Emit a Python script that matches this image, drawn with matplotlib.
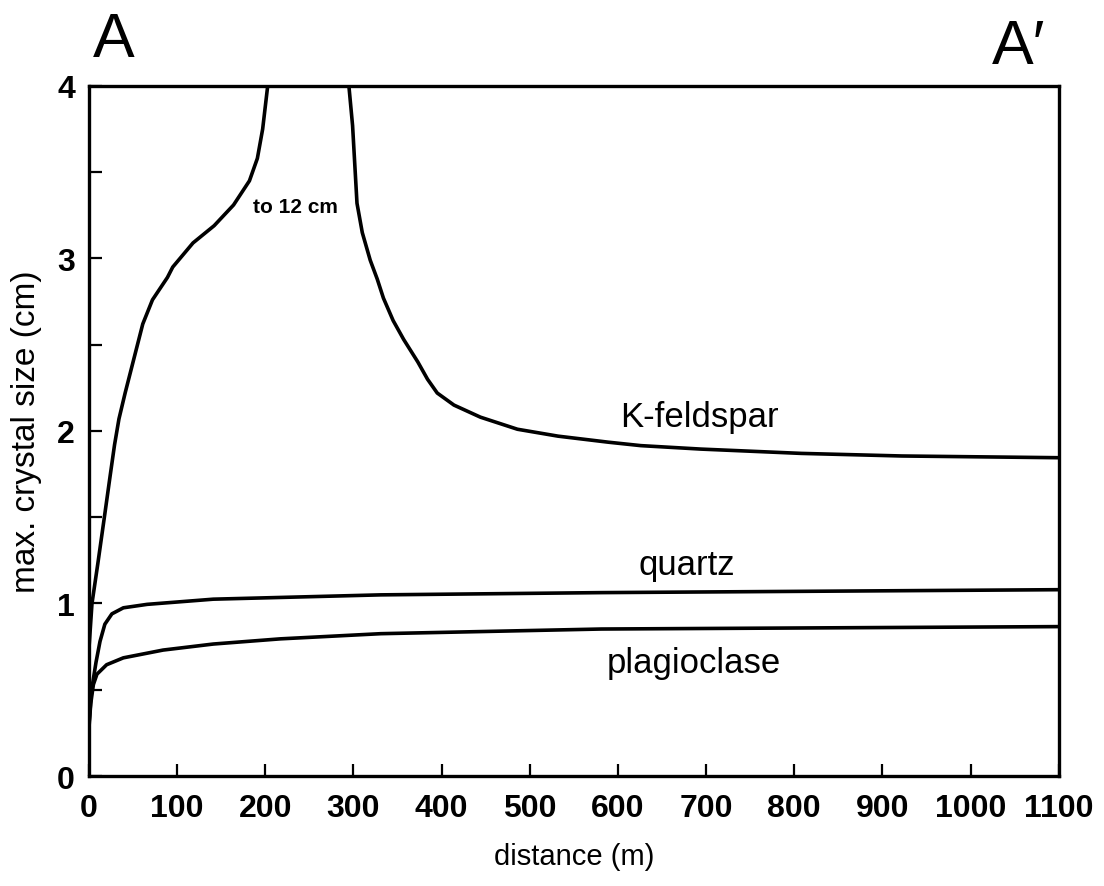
import matplotlib
matplotlib.use("Agg")
import matplotlib.pyplot as plt
from matplotlib.ticker import MultipleLocator

plt.rcParams['font.family'] = ['Liberation Sans', 'DejaVu Sans']

# K-feldspar, left branch (rises off the top of the plot)
kf_left_x = [0, 3.4, 10, 18, 24, 29, 34, 41, 50, 61, 72, 89, 95, 118, 142, 164, 182, 191, 197, 205]
kf_left_y = [0.74, 1.0, 1.23, 1.52, 1.74, 1.92, 2.07, 2.22, 2.40, 2.62, 2.76, 2.89, 2.95, 3.09, 3.19, 3.31, 3.45, 3.58, 3.75, 4.1]
# K-feldspar, right branch
kf_right_x = [293, 299, 304, 310, 319, 327, 334, 345, 357, 373, 384, 395, 414, 444, 486, 532, 589, 626, 694, 808, 922, 1100]
kf_right_y = [4.1, 3.77, 3.32, 3.15, 2.99, 2.88, 2.77, 2.64, 2.53, 2.40, 2.30, 2.22, 2.15, 2.08, 2.01, 1.97, 1.935, 1.915, 1.895, 1.87, 1.855, 1.845]
# quartz
qz_x = [0, 3, 8, 12.5, 18, 26, 39, 66, 141, 331, 581, 1100]
qz_y = [0.30, 0.50, 0.66, 0.78, 0.88, 0.94, 0.975, 0.995, 1.025, 1.05, 1.063, 1.08]
# plagioclase
pl_x = [0, 2, 5, 9, 20, 39, 84, 141, 217, 331, 581, 1100]
pl_y = [0.28, 0.42, 0.53, 0.59, 0.645, 0.685, 0.73, 0.765, 0.795, 0.825, 0.852, 0.866]

x_ticks = list(range(0, 1101, 100))
y_ticks = [0, 1, 2, 3, 4]

fig = plt.figure(figsize=(11.04, 8.87), dpi=100)
ax = fig.add_axes([0.0806, 0.124, 0.8784, 0.778])

lw = 2.6
for xs, ys in [(kf_left_x, kf_left_y), (kf_right_x, kf_right_y), (qz_x, qz_y), (pl_x, pl_y)]:
    ax.plot(xs, ys, color='black', lw=lw, solid_capstyle='round', solid_joinstyle='round')

ax.set_xlim(0, 1100)
ax.set_ylim(0, 4)
ax.set_xticks(x_ticks)
ax.set_xticklabels([str(t) for t in x_ticks])
ax.set_yticks(y_ticks)
ax.set_yticklabels([str(t) for t in y_ticks])
ax.yaxis.set_minor_locator(MultipleLocator(0.5))

for s in ax.spines.values():
    s.set_linewidth(2.4)

ax.tick_params(axis='both', which='both', direction='in', width=1.6, colors='black')
ax.tick_params(axis='x', which='major', length=9, pad=12, labelsize=23)
ax.tick_params(axis='y', which='major', length=9, pad=10, labelsize=23)
ax.tick_params(axis='y', which='minor', length=9)
for lab in ax.get_xticklabels() + ax.get_yticklabels():
    lab.set_fontweight('bold')

ax.set_xlabel('distance (m)', fontsize=21, labelpad=14)
ax.set_ylabel('max. crystal size (cm)', fontsize=24, labelpad=11)

ax.text(692, 2.03, 'K-feldspar', fontsize=25, ha='center', va='baseline')
ax.text(678, 1.17, 'quartz', fontsize=25, ha='center', va='baseline')
ax.text(686, 0.60, 'plagioclase', fontsize=25, ha='center', va='baseline')
ax.text(234, 3.27, 'to 12 cm', fontsize=15, fontweight='bold', ha='center', va='baseline')

fig.text(0.084, 0.936, 'A', fontsize=45, ha='left', va='baseline')
fig.text(0.947, 0.928, 'A\u2032', fontsize=45, ha='right', va='baseline')

fig.savefig('out.png', dpi=100, facecolor='white')
